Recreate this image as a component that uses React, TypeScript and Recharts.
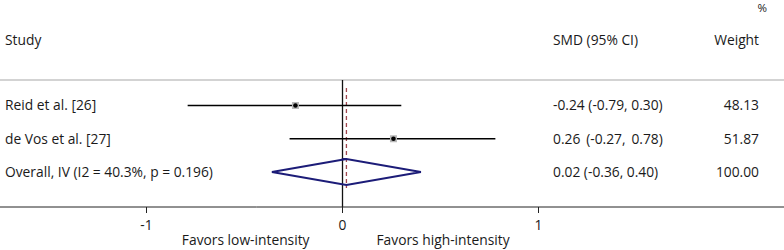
import React from 'react';
import { ComposedChart, XAxis, YAxis, Scatter, ReferenceLine, Customized } from 'recharts';

// ---- data ----
const STUDIES = ['Reid et al. [26]', 'de Vos et al. [27]'];
const SMD = [-0.24, 0.26];
const LOWER = [-0.79, -0.27];
const UPPER = [0.30, 0.78];
const CI_TEXT = ['-0.24 (-0.79, 0.30)', '0.26\u2009 (-0.27,\u2009 0.78)'];
const WEIGHTS = ['48.13', '51.87'];

const OVERALL_LABEL = 'Overall, IV (I2 = 40.3%, p = 0.196)';
const OVERALL_SMD = 0.02;
const OVERALL_LOWER = -0.36;
const OVERALL_UPPER = 0.40;
const OVERALL_CI_TEXT = '0.02 (-0.36, 0.40)';
const OVERALL_WEIGHT = '100.00';

const X_TICKS = [-1, 0, 1];
const FAVORS_LEFT = 'Favors low-intensity';
const FAVORS_RIGHT = 'Favors high-intensity';

// ---- layout / style ----
const W = 784;
const H = 250;
const X_DOMAIN: [number, number] = [-342.5 / 196, 441.5 / 196];
const Y_DOMAIN: [number, number] = [-72.25 / 33.25, (207 - 72.25) / 33.25];
const HEADER_Y = (80 - 72.25) / 33.25;
const DASH_TOP = (88 - 72.25) / 33.25;
const DASH_BOTTOM = (188 - 72.25) / 33.25;
const DIAMOND_HALF = 13 / 33.25;
const FONT = "'Open Sans', 'Noto Sans', sans-serif";
const FS = 13.8;
const TEXT = '#1a1a1a';
const NAVY = '#1c1c78';

const rows = STUDIES.map((s, i) => ({
  x: SMD[i], y: i + 1, label: s, ci: CI_TEXT[i], w: WEIGHTS[i], lo: LOWER[i], hi: UPPER[i],
}));
const overallRow = { x: OVERALL_SMD, y: rows.length + 1, label: OVERALL_LABEL, ci: OVERALL_CI_TEXT, w: OVERALL_WEIGHT };
const labelRows = [...rows, overallRow];
const oy = overallRow.y;
const diamond = [
  { x: OVERALL_LOWER, y: oy },
  { x: OVERALL_SMD, y: oy - DIAMOND_HALF },
  { x: OVERALL_UPPER, y: oy },
  { x: OVERALL_SMD, y: oy + DIAMOND_HALF },
  { x: OVERALL_LOWER, y: oy },
  { x: OVERALL_SMD, y: oy - DIAMOND_HALF },
];

const txt = { fontFamily: FONT, fontSize: FS, fill: TEXT };

const RowText = (props: any) => {
  const { cy, payload } = props;
  return (
    <g>
      <text x={5} y={cy} dy="0.36em" {...txt}>{payload.label}</text>
      <text x={553} y={cy} dy="0.36em" {...txt} style={{ whiteSpace: 'pre' }}>{payload.ci}</text>
      <text x={759} y={cy} dy="0.36em" textAnchor="end" {...txt}>{payload.w}</text>
    </g>
  );
};

const Marker = (props: any) => {
  const { cx, cy } = props;
  return (
    <g>
      <rect x={cx - 3.5} y={cy - 3.5} width={7} height={7} fill="#b8b8b8" />
      <circle cx={cx} cy={cy} r={2.3} fill="#000" />
    </g>
  );
};

const Tick = (props: any) => {
  const { x, y, payload } = props;
  return (
    <g>
      <text x={x} y={y} dy="0.71em" textAnchor="middle" {...txt}>{payload.value}</text>
      {payload.value === 0 && (
        <>
          <text x={x - 33} y={y + 15} dy="0.71em" textAnchor="end" {...txt}>{FAVORS_LEFT}</text>
          <text x={x + 34} y={y + 15} dy="0.71em" textAnchor="start" {...txt}>{FAVORS_RIGHT}</text>
        </>
      )}
    </g>
  );
};

const Headers = () => (
  <g>
    <text x={5} y={40} dy="0.36em" {...txt}>Study</text>
    <text x={553} y={40} dy="0.36em" {...txt}>SMD (95% CI)</text>
    <text x={759} y={40} dy="0.36em" textAnchor="end" {...txt}>Weight</text>
    <text x={767} y={7.5} dy="0.36em" textAnchor="end" {...txt} fontSize={11.5}>%</text>
  </g>
);

export default function App() {
  return (
    <div style={{ position: 'absolute', left: 0, top: 0, width: W, height: H, background: '#fff' }}>
      <ComposedChart width={W} height={H} margin={{ top: 0, right: 0, bottom: 0, left: 0 }}>
        <XAxis
          type="number"
          dataKey="x"
          domain={X_DOMAIN}
          allowDataOverflow
          ticks={X_TICKS}
          height={43}
          tickSize={6}
          tickMargin={7}
          stroke="#222"
          tick={<Tick />}
          interval={0}
        />
        <YAxis type="number" dataKey="y" domain={Y_DOMAIN} allowDataOverflow reversed hide />
        <ReferenceLine y={HEADER_Y} stroke="#c4c4c4" strokeWidth={1.5} />
        <ReferenceLine
          segment={[{ x: 0, y: HEADER_Y }, { x: 0, y: Y_DOMAIN[1] }]}
          stroke="#111"
          strokeWidth={1.3}
        />
        <ReferenceLine
          segment={[{ x: OVERALL_SMD, y: DASH_TOP }, { x: OVERALL_SMD, y: DASH_BOTTOM }]}
          stroke="#a0474f"
          strokeWidth={1.3}
          strokeDasharray="4 3"
        />
        {rows.map((r, i) => (
          <ReferenceLine
            key={i}
            segment={[{ x: r.lo, y: r.y }, { x: r.hi, y: r.y }]}
            stroke="#000"
            strokeWidth={1.6}
          />
        ))}
        <Scatter
          data={diamond}
          line={{ stroke: NAVY, strokeWidth: 2 }}
          shape={() => <g />}
          isAnimationActive={false}
        />
        <Scatter data={rows} shape={<Marker />} isAnimationActive={false} />
        <Scatter data={labelRows.map((r) => ({ ...r, x: 0 }))} shape={<RowText />} isAnimationActive={false} />
        <Customized component={Headers} />
      </ComposedChart>
    </div>
  );
}
